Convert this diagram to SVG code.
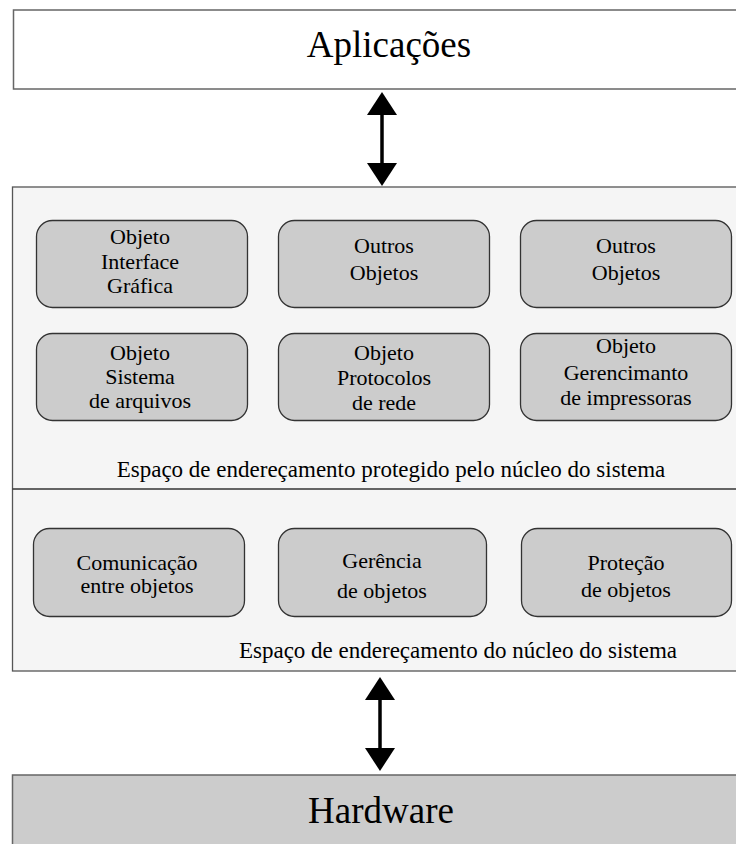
<svg xmlns="http://www.w3.org/2000/svg" width="736" height="844" viewBox="0 0 736 844" font-family="'Liberation Serif', 'DejaVu Serif', 'Times New Roman', Times, serif">
<style>
text{font-family:"Liberation Serif","DejaVu Serif","Times New Roman",Times,serif;fill:#000;text-anchor:middle}
.big{font-size:37px}
.lbl{font-size:23px}
.obj{font-size:22px}
.obox{fill:#cccccc;stroke:#333;stroke-width:1.3}
.ar{fill:#000}
</style>
<rect width="736" height="844" fill="#fff"/>
<g id="aplicacoes">
<rect x="13.5" y="10" width="730" height="79" fill="#fff" stroke="#666" stroke-width="1.5"/>
<text class="big" x="389" y="57">Aplicações</text>
</g>
<g id="espaco-nucleo">
<rect x="12.5" y="187" width="730" height="484" fill="#f5f5f5" stroke="#555" stroke-width="1.3"/>
<line x1="12.5" y1="489" x2="736" y2="489" stroke="#333" stroke-width="1.3"/>
<text class="lbl" x="391" y="477">Espaço de endereçamento protegido pelo núcleo do sistema</text>
<text class="lbl" x="458" y="658">Espaço de endereçamento do núcleo do sistema</text>
</g>
<g id="obj-interface">
<rect class="obox" x="36.5" y="220.5" width="211" height="87" rx="16"/>
<text class="obj" x="140" y="244">Objeto</text>
<text class="obj" x="140" y="269">Interface</text>
<text class="obj" x="140" y="293">Gráfica</text>
</g>
<g id="outros-1">
<rect class="obox" x="278.5" y="220.5" width="211" height="87" rx="16"/>
<text class="obj" x="384" y="253">Outros</text>
<text class="obj" x="384" y="280">Objetos</text>
</g>
<g id="outros-2">
<rect class="obox" x="520.5" y="220.5" width="211" height="87" rx="16"/>
<text class="obj" x="626" y="253">Outros</text>
<text class="obj" x="626" y="280">Objetos</text>
</g>
<g id="obj-arquivos">
<rect class="obox" x="36.5" y="333.5" width="211" height="87" rx="16"/>
<text class="obj" x="140" y="360">Objeto</text>
<text class="obj" x="140" y="384">Sistema</text>
<text class="obj" x="140" y="408">de arquivos</text>
</g>
<g id="obj-protocolos">
<rect class="obox" x="278.5" y="333.5" width="211" height="87" rx="16"/>
<text class="obj" x="384" y="360">Objeto</text>
<text class="obj" x="384" y="385">Protocolos</text>
<text class="obj" x="384" y="410">de rede</text>
</g>
<g id="obj-impressoras">
<rect class="obox" x="520.5" y="333.5" width="211" height="87" rx="16"/>
<text class="obj" x="626" y="353">Objeto</text>
<text class="obj" x="626" y="380">Gerencimanto</text>
<text class="obj" x="626" y="405">de impressoras</text>
</g>
<g id="comunicacao">
<rect class="obox" x="33.5" y="528.5" width="211" height="88" rx="16"/>
<text class="obj" x="137" y="570">Comunicação</text>
<text class="obj" x="137" y="593">entre objetos</text>
</g>
<g id="gerencia">
<rect class="obox" x="278.5" y="528.5" width="208" height="88" rx="16"/>
<text class="obj" x="382" y="568">Gerência</text>
<text class="obj" x="382" y="598">de objetos</text>
</g>
<g id="protecao">
<rect class="obox" x="521.5" y="528.5" width="210" height="88" rx="16"/>
<text class="obj" x="626" y="570">Proteção</text>
<text class="obj" x="626" y="597">de objetos</text>
</g>
<g id="hardware">
<rect x="12.5" y="775" width="730" height="75" fill="#cccccc" stroke="#666" stroke-width="1.5"/>
<text class="big" x="381" y="823">Hardware</text>
</g>
<g id="connectors">
<line x1="382" y1="112" x2="382" y2="166" stroke="#000" stroke-width="3.5"/>
<polygon class="ar" points="382,92 367,115 397,115"/>
<polygon class="ar" points="382,186 367,163 397,163"/>
<line x1="380" y1="697" x2="380" y2="752" stroke="#000" stroke-width="3.5"/>
<polygon class="ar" points="380,677 365,700 395,700"/>
<polygon class="ar" points="380,771 365,748 395,748"/>
</g>
</svg>
